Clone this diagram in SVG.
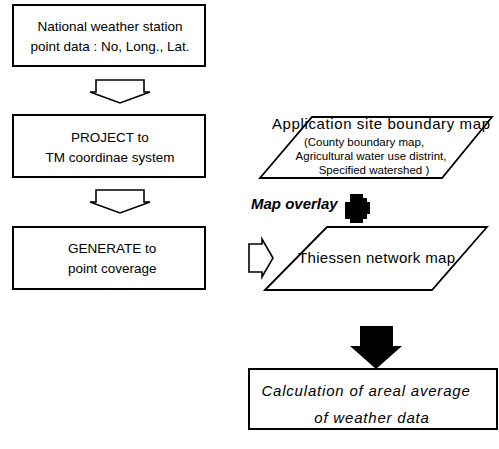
<svg xmlns="http://www.w3.org/2000/svg" width="499" height="449" viewBox="0 0 499 449">
<style>
.box{fill:#fff;stroke:#000;stroke-width:2}
.para{fill:none;stroke:#000;stroke-width:1.8}
.hol{fill:#fff;stroke:#000;stroke-width:1.6;stroke-linejoin:miter}
.blk{fill:#000;stroke:none}
.t{font-family:"Liberation Sans",Arial,sans-serif;font-size:13.5px;fill:#000}
.m{font-family:"Liberation Sans",Arial,sans-serif;font-size:15px;fill:#000}
.s{font-family:"Liberation Sans",Arial,sans-serif;font-size:11.5px;fill:#000}
.bi{font-family:"Liberation Sans",Arial,sans-serif;font-size:15px;font-weight:bold;font-style:italic;fill:#000}
.it{font-family:"Liberation Sans",Arial,sans-serif;font-size:15px;font-style:italic;fill:#000;letter-spacing:0.8px}
</style>
<rect width="499" height="449" fill="#fff"/>
<g id="node-station">
<rect class="box" x="13" y="5" width="192" height="61"/>
<text class="t" x="110" y="31" text-anchor="middle">National weather station</text>
<text class="t" x="110" y="51" text-anchor="middle">point data : No, Long., Lat.</text>
</g>
<g id="node-project">
<rect class="box" x="13" y="115" width="192" height="62"/>
<text class="t" x="110" y="142" text-anchor="middle">PROJECT to</text>
<text class="t" x="110" y="162" text-anchor="middle">TM coordinae system</text>
</g>
<g id="node-generate">
<rect class="box" x="13" y="227" width="192" height="62"/>
<text class="t" x="68" y="253">GENERATE to</text>
<text class="t" x="68" y="273">point coverage</text>
</g>
<g id="node-boundary">
<polygon class="para" points="260,178 312,117 492,117 442,178"/>
<text class="m" x="272" y="129" textLength="218">Application site boundary  map</text>
<text class="s" x="364" y="146" text-anchor="middle">(County boundary map,</text>
<text class="s" x="371" y="160" text-anchor="middle">Agricultural water use distrint,</text>
<text class="s" x="374" y="174" text-anchor="middle">Specified watershed )</text>
</g>
<g id="node-thiessen">
<polygon class="para" points="265,290 327,227 487,227 432,290"/>
<text class="m" x="298" y="263" textLength="157">Thiessen network map</text>
</g>
<g id="node-overlay">
<text class="bi" x="251" y="209">Map overlay</text>
</g>
<g id="node-calc">
<rect class="box" x="249" y="369" width="248" height="60"/>
<text class="it" x="366" y="396" text-anchor="middle">Calculation of areal average</text>
<text class="it" x="372" y="423" text-anchor="middle">of weather data</text>
</g>
<g id="connectors">
<polygon class="hol" points="96,80 144,80 144,92 150,92 120,103 90,92 96,92"/>
<polygon class="hol" points="96,190 144,190 144,202 150,202 120,213 90,202 96,202"/>
<polygon class="hol" points="249,244 262,244 262,239 273,258 262,277 262,272 249,272"/>
<polygon class="blk" points="350,194 363,194 363,198 367,198 367,202 370,202 370,214 367,214 367,219 363,219 363,223 350,223 350,219 345,219 345,202 350,202"/>
<polygon class="blk" points="360,326 393,326 393,346 402,346 376,369 350,346 360,346"/>
</g>
</svg>
